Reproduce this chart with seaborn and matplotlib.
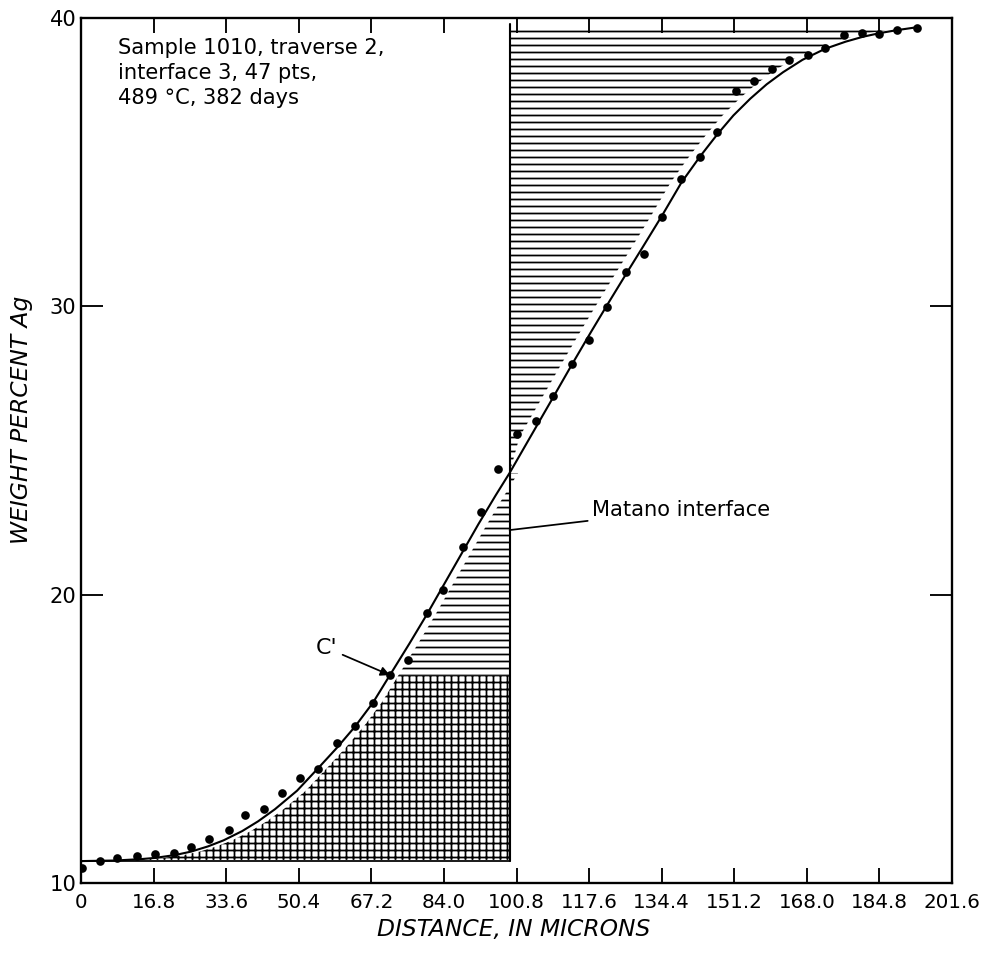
import numpy as np
import matplotlib
matplotlib.use("Agg")
import matplotlib.pyplot as plt
import seaborn as sns

# ---------------- data ----------------
distance = [0.2, 4.4, 8.3, 13.0, 17.1, 21.5, 25.5, 29.6, 34.3, 38.0,
            42.4, 46.5, 50.7, 54.9, 59.3, 63.4, 67.6, 71.5, 75.7, 80.1,
            83.8, 88.4, 92.6, 96.5, 100.9, 105.3, 109.3, 113.7, 117.6, 121.8,
            126.2, 130.3, 134.5, 138.9, 143.3, 147.2, 151.6, 155.8, 160.0, 163.9,
            168.3, 172.2, 176.6, 180.8, 184.7, 188.9, 193.5]
weight_pct = [10.52, 10.76, 10.87, 10.94, 11.01, 11.04, 11.25, 11.53, 11.84, 12.36,
              12.57, 13.12, 13.64, 13.95, 14.86, 15.45, 16.24, 17.21, 17.73, 19.37,
              20.16, 21.65, 22.87, 24.36, 25.57, 26.02, 26.89, 28.00, 28.83, 29.98,
              31.19, 31.82, 33.10, 34.42, 35.18, 36.05, 37.47, 37.82, 38.23, 38.55,
              38.72, 38.96, 39.41, 39.48, 39.45, 39.59, 39.66]

# fitted smooth curve (knots)
curve_x = [0, 8, 14, 17.1, 21.8, 25.5, 29.4, 33, 37.3, 41, 44.9, 50, 55, 59.3,
           63.4, 67.6, 71.5, 76, 80, 84, 88, 92, 96, 99.2, 104, 109, 113.7, 118,
           122, 126.2, 130, 134.5, 139, 143.3, 147.2, 151, 154.9, 158.7, 162.5,
           167, 172.2, 177, 181, 185, 188.9, 193.5]
curve_y = [10.76, 10.78, 10.83, 10.87, 10.97, 11.09, 11.27, 11.48, 11.80, 12.14,
           12.56, 13.20, 14.00, 14.70, 15.42, 16.26, 17.21, 18.30, 19.30, 20.35,
           21.40, 22.45, 23.45, 24.22, 25.47, 26.77, 28.00, 29.10, 30.10, 31.13,
           32.05, 33.15, 34.30, 35.20, 35.95, 36.62, 37.20, 37.70, 38.12, 38.55,
           38.93, 39.18, 39.35, 39.48, 39.58, 39.68]

matano_x = 99.2
c_prime = (71.5, 17.21)
base_y = 10.76
hatch_top = 39.6

x_ticks = [0, 16.8, 33.6, 50.4, 67.2, 84.0, 100.8, 117.6, 134.4, 151.2, 168.0, 184.8, 201.6]
x_tick_labels = ["0", "16.8", "33.6", "50.4", "67.2", "84.0", "100.8", "117.6",
                 "134.4", "151.2", "168.0", "184.8", "201.6"]
y_ticks = [10, 20, 30, 40]
y_tick_labels = ["10", "20", "30", "40"]

note_text = "Sample 1010, traverse 2,\ninterface 3, 47 pts,\n489 \u00b0C, 382 days"

# ---------------- style ----------------
sns.set_theme(style="white")
DPI = 84
plt.rcParams["font.family"] = ["DejaVu Sans"]
plt.rcParams["hatch.linewidth"] = 1.5
plt.rcParams["hatch.color"] = "black"

fig = plt.figure(figsize=(983 / DPI, 957 / DPI), dpi=DPI)
ax = fig.add_axes([81 / 983, 1 - 883 / 957, (952 - 81) / 983, (883 - 18) / 957])
ax.set_facecolor("white")

# ---------------- hatched areas ----------------
cx = np.array(curve_x)
cy = np.array(curve_y)

def curve_x_at(yv):
    return np.interp(yv, cy, cx)

gap_left = 2.0
gap_right = 2.5

# lower cross-hatched region (below C')
ylow = np.concatenate([[base_y + 0.04], cy[(cy > base_y + 0.04) & (cy < c_prime[1])], [c_prime[1]]])
ax.fill_betweenx(ylow, curve_x_at(ylow) + gap_left, matano_x, facecolor="none",
                 edgecolor="black", hatch="++", linewidth=0)

# horizontal hatch left of Matano (C' to Matano crossing)
y_cross = np.interp(matano_x, cx, cy)
ymid = np.concatenate([[c_prime[1]], cy[(cy > c_prime[1]) & (cy < y_cross)], [y_cross]])
ax.fill_betweenx(ymid, curve_x_at(ymid) + gap_left, matano_x, facecolor="none",
                 edgecolor="black", hatch="--", linewidth=0)

# horizontal hatch right of Matano
yup = np.concatenate([[y_cross], cy[(cy > y_cross) & (cy < hatch_top)], [hatch_top]])
ax.fill_betweenx(yup, matano_x, np.maximum(curve_x_at(yup) - gap_right, matano_x),
                 facecolor="none", edgecolor="black", hatch="--", linewidth=0)

# Matano line and base line
ax.plot([matano_x, matano_x], [base_y, 39.8], color="black", lw=1.8)
ax.plot([0, matano_x], [base_y, base_y], color="black", lw=1.5)

# ---------------- curve and points ----------------
sns.lineplot(x=curve_x, y=curve_y, ax=ax, color="black", lw=1.8, sort=False,
             estimator=None)
sns.scatterplot(x=distance, y=weight_pct, ax=ax, color="black", s=55,
                edgecolor="black", linewidth=0, zorder=5)

# ---------------- annotations ----------------
ax.text(8.6, 39.3, note_text, ha="left", va="top", fontsize=18, linespacing=1.3,
        color="black")

ax.annotate("C'", xy=c_prime, xytext=(56.9, 18.15), ha="center", va="center",
            fontsize=19, color="black",
            arrowprops=dict(arrowstyle="-|>", color="black", lw=1.5,
                            mutation_scale=16, shrinkA=2, shrinkB=0))

ax.annotate("Matano interface", xy=(matano_x, 22.24), xytext=(118.2, 22.94),
            ha="left", va="center", fontsize=18, color="black",
            arrowprops=dict(arrowstyle="-", color="black", lw=1.5,
                            shrinkA=1, shrinkB=0))

# ---------------- axes ----------------
ax.set_xlim(0, 201.6)
ax.set_ylim(10, 40)
ax.set_xticks(x_ticks)
ax.set_xticklabels(x_tick_labels)
ax.set_yticks(y_ticks)
ax.set_yticklabels(y_tick_labels)
ax.tick_params(axis="x", direction="in", length=13, width=1.6, top=True,
               bottom=True, labelsize=17, pad=9, colors="black")
ax.tick_params(axis="y", direction="in", length=19, width=1.6, left=True,
               right=True, labelsize=18, pad=4, colors="black")
for sp in ax.spines.values():
    sp.set_visible(True)
    sp.set_color("black")
    sp.set_linewidth(2.0)

ax.set_xlabel("DISTANCE, IN MICRONS", fontsize=20, style="italic", color="black")
ax.set_ylabel("WEIGHT PERCENT Ag", fontsize=20, style="italic", color="black")
ax.xaxis.set_label_coords(0.497, -0.054)
ax.xaxis.label.set_va("center")
ax.yaxis.set_label_coords(-0.068, 0.535)
ax.yaxis.label.set_va("center")

fig.savefig("out.png", dpi=DPI, facecolor="white")
